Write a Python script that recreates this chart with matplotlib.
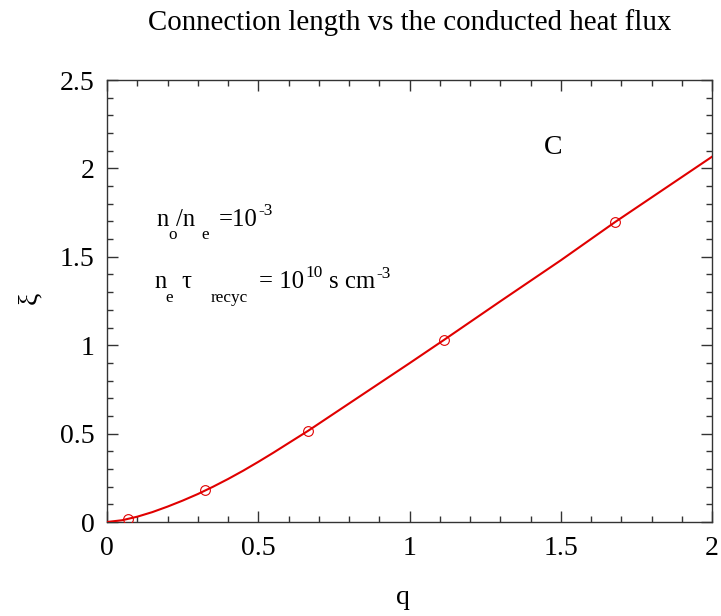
import matplotlib
matplotlib.use("Agg")
import matplotlib.pyplot as plt
from matplotlib.ticker import MultipleLocator, FuncFormatter

plt.rcParams['font.family'] = ['Liberation Serif', 'DejaVu Serif']

# curve data
q_line = [0, 0.05, 0.1, 0.15, 0.2, 0.25, 0.3, 0.35, 0.4, 0.45, 0.5, 0.55, 0.6,
          0.665, 0.8, 1.0, 1.115, 1.3, 1.5, 1.68, 1.85, 2.0]
xi_line = [0, 0.01, 0.03, 0.056, 0.087, 0.121, 0.158, 0.199, 0.243, 0.29, 0.34,
           0.392, 0.446, 0.516, 0.67, 0.898, 1.031, 1.248, 1.48, 1.697, 1.893, 2.066]

# marker data
q_pts = [0.07, 0.325, 0.665, 1.115, 1.68]
xi_pts = [0.019, 0.179, 0.516, 1.031, 1.697]

title = "Connection length vs the conducted heat flux"
xlabel = "q"
ylabel = "ξ"

W, H = 721, 616
fig = plt.figure(figsize=(W/100, H/100), dpi=100)
ax = fig.add_axes([107/W, 1-522/H, (712-107)/W, (522-80)/H])

red = '#e00000'
ax.plot(q_line, xi_line, color=red, lw=1.5, zorder=3)
ax.plot(q_pts, xi_pts, ls='none', marker='o', ms=7, mfc='none', mec=red, mew=0.8, zorder=4)

ax.set_xlim(0, 2)
ax.set_ylim(0, 2.5)
ax.xaxis.set_major_locator(MultipleLocator(0.5))
ax.xaxis.set_minor_locator(MultipleLocator(0.1))
ax.yaxis.set_major_locator(MultipleLocator(0.5))
ax.yaxis.set_minor_locator(MultipleLocator(0.1))
ax.xaxis.set_major_formatter(FuncFormatter(lambda v, p: f"{v:g}"))
ax.yaxis.set_major_formatter(FuncFormatter(lambda v, p: f"{v:g}"))

ax.tick_params(which='both', direction='in', top=True, right=True, color='#333333', width=1)
ax.tick_params(which='major', length=8, labelsize=20)
ax.tick_params(axis='x', which='major', pad=10)
ax.tick_params(axis='y', which='major', pad=9)
ax.tick_params(which='minor', length=4)
for s in ax.spines.values():
    s.set_color('#333333')
    s.set_linewidth(1)

# annotation layout: local pixel offsets scaled about an origin
OX, OY, SX, SY = 130, 190, 1.07, 1.09


def ptext(x, y, s, size):
    """Place text; x and baseline y in reference pixels from the top-left."""
    px = OX + (x - OX) * SX
    py = OY + (y - OY) * SY
    fig.text(px/W, 1-py/H, s, fontsize=size, va='baseline', ha='left')


fig.text(409.5/W, 1-23/H, title, ha='center', va='center', fontsize=20.8)
fig.text(403/W, 1-597/H, xlabel, ha='center', va='center', fontsize=20)
fig.text(30/W, 1-298/H, ylabel, ha='center', va='center', fontsize=20, rotation=90)

fig.text(553/W, 1-147/H, "C", ha='center', va='center', fontsize=20)

MAIN, SMALL = 17.8, 12.4
# n_o/n_e =10^-3
ptext(155, 223, "n", MAIN)
ptext(166, 235, "o", SMALL)
ptext(173, 223, "/n", MAIN)
ptext(197, 235, "e", SMALL)
ptext(213, 223, "=10", MAIN)
ptext(250, 213, "-3", SMALL)
# n_e tau_recyc = 10^10 s cm^-3
ptext(153, 280, "n", MAIN)
ptext(163, 293, "e", SMALL)
ptext(178, 280, "τ", MAIN)
ptext(205, 293, "recyc", SMALL)
ptext(251, 280, "= 10", MAIN)
ptext(294, 270, "10", SMALL)
ptext(316, 280, "s cm", MAIN)
ptext(360, 271, "-3", SMALL)

fig.savefig("out.png", dpi=100)
